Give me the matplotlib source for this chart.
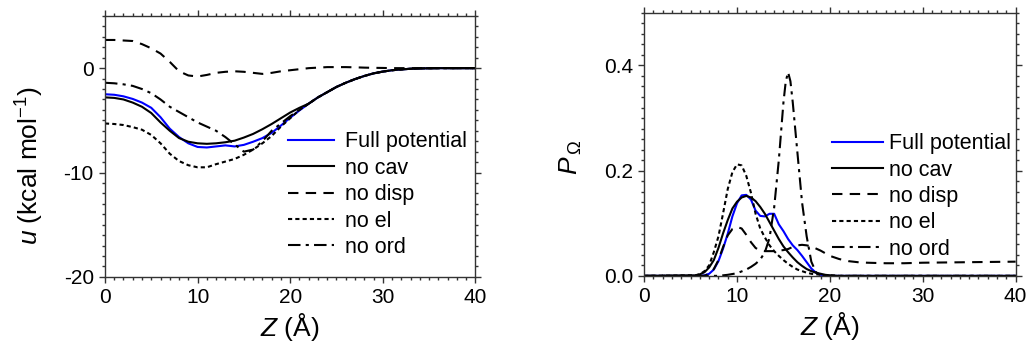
import matplotlib
matplotlib.use("Agg")
import matplotlib.pyplot as plt
from matplotlib.ticker import MultipleLocator

plt.rcParams["font.family"] = ["Liberation Sans", "DejaVu Sans"]
plt.rcParams["mathtext.fontset"] = "custom"
plt.rcParams["mathtext.rm"] = "Liberation Sans"
plt.rcParams["mathtext.it"] = "Liberation Sans:italic"
plt.rcParams["axes.unicode_minus"] = False

# ---- left panel: potential u(Z), Z = 0..40 step 1
z_u = list(range(0, 41))
tail = [-3.4, -2.8, -2.3, -1.8, -1.4, -1.05, -0.75, -0.5, -0.33, -0.2,
        -0.12, -0.06, -0.03, -0.01, 0, 0, 0, 0, 0]  # Z = 22..40
u_full = [-2.5, -2.55, -2.7, -2.95, -3.3, -3.8, -4.7, -5.8, -6.6, -7.2, -7.55,
          -7.6, -7.5, -7.4, -7.5, -7.35, -7.05, -6.7, -6.2, -5.5, -4.75, -4.05] + tail
u_nocav = [-2.8, -2.85, -3.0, -3.3, -3.7, -4.3, -5.2, -6.0, -6.7, -7.05, -7.2,
           -7.25, -7.2, -7.1, -6.95, -6.65, -6.3, -5.85, -5.35, -4.8, -4.25, -3.8] + tail
u_nodisp = [2.7, 2.7, 2.65, 2.6, 2.3, 1.9, 1.4, 0.6, -0.3, -0.7, -0.8,
            -0.65, -0.45, -0.35, -0.3, -0.35, -0.45, -0.55, -0.45, -0.3, -0.2, -0.1,
            0.0, 0.05, 0.1, 0.1, 0.1, 0.08, 0.05, 0.03, 0.02, 0, 0, 0, 0, 0, 0, 0, 0, 0, 0]
u_noel = [-5.3, -5.35, -5.45, -5.65, -5.9, -6.4, -7.2, -8.2, -8.9, -9.3, -9.5,
          -9.5, -9.2, -8.95, -8.7, -8.3, -7.8, -7.2, -6.5, -5.6, -4.8, -4.0] + tail
u_noord = [-1.4, -1.45, -1.55, -1.7, -2.0, -2.4, -3.0, -3.7, -4.2, -4.7, -5.2,
           -5.6, -6.0, -6.6, -7.3, -8.0, -7.8, -7.0, -6.0, -5.3, -4.6, -4.0] + tail

# ---- right panel: probability P_Omega(Z)
z_full = [0, 6, 6.5, 7, 7.5, 8, 8.5, 9, 9.5, 10, 10.5, 11, 11.5, 12, 12.5, 13,
          13.5, 14, 14.5, 15, 15.5, 16, 16.5, 17, 17.5, 18, 18.5, 19, 19.5, 20, 40]
p_full = [0, 0, 0.001, 0.004, 0.012, 0.028, 0.052, 0.08, 0.113, 0.138, 0.153, 0.154,
          0.145, 0.124, 0.114, 0.113, 0.118, 0.118, 0.098, 0.085, 0.07, 0.058,
          0.049, 0.038, 0.026, 0.014, 0.006, 0.002, 0.001, 0, 0]
z_nocav = [0, 5.5, 6, 6.5, 7, 7.5, 8, 8.5, 9, 9.5, 10, 10.5, 11, 11.5, 12, 12.5, 13,
           13.5, 14, 14.5, 15, 15.5, 16, 16.5, 17, 17.5, 18, 18.5, 19, 19.5, 20, 21, 40]
p_nocav = [0, 0.001, 0.003, 0.007, 0.016, 0.03, 0.053, 0.081, 0.106, 0.128, 0.141,
           0.149, 0.152, 0.149, 0.142, 0.131, 0.118, 0.102, 0.086, 0.07, 0.056, 0.045,
           0.035, 0.026, 0.019, 0.013, 0.009, 0.006, 0.004, 0.002, 0.001, 0, 0]
z_nodisp = [0, 6.5, 7, 7.5, 8, 8.5, 9, 9.5, 10, 10.5, 11, 11.5, 12, 12.5, 13, 13.5,
            14, 14.5, 15, 15.5, 16, 16.5, 17, 17.5, 18, 18.5, 19, 19.5, 20, 21, 22,
            23, 24, 26, 28, 30, 35, 40]
p_nodisp = [0, 0, 0.004, 0.013, 0.03, 0.055, 0.077, 0.089, 0.093, 0.09, 0.078, 0.064,
            0.053, 0.048, 0.047, 0.047, 0.047, 0.048, 0.049, 0.051, 0.055, 0.058, 0.059,
            0.058, 0.056, 0.052, 0.048, 0.043, 0.038, 0.032, 0.028, 0.026, 0.025,
            0.024, 0.024, 0.025, 0.026, 0.027]
z_noel = [0, 5.5, 6, 6.5, 7, 7.5, 8, 8.5, 9, 9.5, 10, 10.5, 11, 11.5, 12, 12.5, 13,
          13.5, 14, 14.5, 15, 15.5, 16, 16.5, 17, 17.5, 18, 19, 20, 21, 40]
p_noel = [0, 0.001, 0.003, 0.009, 0.02, 0.045, 0.075, 0.119, 0.165, 0.197, 0.212,
          0.21, 0.19, 0.158, 0.118, 0.09, 0.073, 0.058, 0.047, 0.038, 0.03, 0.023,
          0.017, 0.012, 0.009, 0.006, 0.004, 0.002, 0.001, 0, 0]
z_noord = [0, 8, 9, 10, 11, 11.5, 12, 12.5, 13, 13.5, 14, 14.5, 15, 15.25, 15.5,
           15.75, 16, 16.5, 17, 17.5, 18, 18.5, 19, 20, 40]
p_noord = [0, 0, 0.002, 0.005, 0.012, 0.017, 0.023, 0.031, 0.045, 0.072, 0.13, 0.22,
           0.33, 0.37, 0.387, 0.37, 0.33, 0.235, 0.14, 0.075, 0.027, 0.007, 0.002, 0, 0]

labels = ["Full potential", "no cav", "no disp", "no el", "no ord"]
styles = [dict(color="#0000ff", ls="-"),
          dict(color="black", ls="-"),
          dict(color="black", ls=(0, (5, 3.5))),
          dict(color="black", ls=(0, (2, 1.5))),
          dict(color="black", ls=(0, (6, 2.5, 1.5, 2.5)))]

fig = plt.figure(figsize=(10.29, 3.47), dpi=100)
ax1 = fig.add_axes([0.102, 0.202, 0.360, 0.752])
ax2 = fig.add_axes([0.626, 0.205, 0.361, 0.758])

left_series = [u_full, u_nocav, u_nodisp, u_noel, u_noord]
for y, lab, st in zip(left_series, labels, styles):
    ax1.plot(z_u, y, lw=1.5, label=lab, **st)

right_series = [(z_full, p_full), (z_nocav, p_nocav), (z_nodisp, p_nodisp),
                (z_noel, p_noel), (z_noord, p_noord)]
for (x, y), lab, st in zip(right_series, labels, styles):
    ax2.plot(x, y, lw=1.5, label=lab, **st)

ax1.set_xlim(0, 40)
ax1.set_ylim(-20, 5)
ax1.xaxis.set_major_locator(MultipleLocator(10))
ax1.xaxis.set_minor_locator(MultipleLocator(1))
ax1.yaxis.set_major_locator(MultipleLocator(10))
ax1.yaxis.set_minor_locator(MultipleLocator(1))
ax1.set_xlabel(r"$\mathit{Z}$ (Å)", fontsize=19, labelpad=3)
ax1.set_ylabel(r"$\mathit{u}$ (kcal mol$^{-1}$)", fontsize=19)
ax1.yaxis.set_label_coords(-0.16, 0.425)

ax2.set_xlim(0, 40)
ax2.set_ylim(0, 0.5)
ax2.xaxis.set_major_locator(MultipleLocator(10))
ax2.xaxis.set_minor_locator(MultipleLocator(1))
ax2.yaxis.set_major_locator(MultipleLocator(0.2))
ax2.yaxis.set_minor_locator(MultipleLocator(0.02))
ax2.set_xlabel(r"$\mathit{Z}$ (Å)", fontsize=19, labelpad=3)
ax2.set_ylabel(r"$\mathit{P}_{\,\Omega}$", fontsize=19)
ax2.yaxis.set_label_coords(-0.163, 0.45)

for ax in (ax1, ax2):
    ax.tick_params(which="both", direction="out", top=True, right=True,
                   labelsize=15, width=1, color="#333333", pad=4)
    ax.tick_params(which="major", length=4)
    ax.tick_params(which="minor", length=2.5)
    for sp in ax.spines.values():
        sp.set_color("#333333")
        sp.set_linewidth(1)

ax1.legend(loc="center left", bbox_to_anchor=(0.495, 0.315), frameon=False,
           fontsize=15.5, borderpad=0, borderaxespad=0, handlelength=2.1,
           handletextpad=0.55, labelspacing=0.25)
ax2.legend(loc="center left", bbox_to_anchor=(0.505, 0.302), frameon=False,
           fontsize=15.5, borderpad=0, borderaxespad=0, handlelength=2.4,
           handletextpad=0.25, labelspacing=0.25)

fig.savefig("out.png", dpi=100)
